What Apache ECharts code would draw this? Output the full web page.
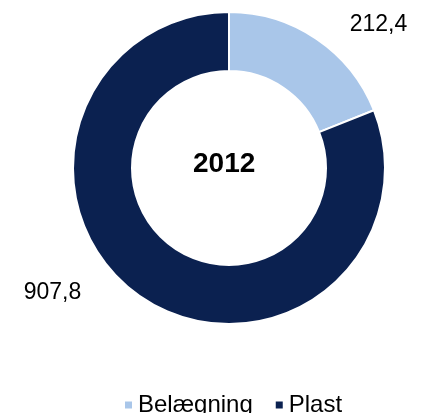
<!DOCTYPE html>
<html>
<head>
<meta charset="utf-8">
<script src="https://cdn.jsdelivr.net/npm/echarts@6/dist/echarts.min.js"></script>
<style>
  html, body { margin: 0; padding: 0; background: #ffffff; }
  #chart { width: 421px; height: 413px; }
</style>
</head>
<body>
<div id="chart"></div>
<script>
// Consumption split for the year shown in the donut hole
const yearLabel = '2012';
const categories = ['Belægning', 'Plast'];
const values = [212.4, 907.8];
const colors = ['#A9C6E9', '#0B2150'];

// Fine offsets for the outside value labels (per slice)
const labelOffsets = [[2, 2], [-29, -21]];

const fmt = v => v.toFixed(1).replace('.', ',');

const chart = echarts.init(document.getElementById('chart'), null, { renderer: 'canvas' });

chart.setOption({
  animation: false,
  backgroundColor: '#ffffff',
  color: colors,
  title: {
    text: yearLabel,
    left: 193,
    top: 150,
    padding: 0,
    textStyle: {
      fontFamily: 'Liberation Sans, Arial, sans-serif',
      fontSize: 28,
      fontWeight: 'bold',
      color: '#000000'
    }
  },
  legend: {
    data: categories,
    left: 123,
    top: 393,
    padding: 0,
    icon: 'rect',
    itemWidth: 9,
    itemHeight: 9,
    itemGap: 21,
    textStyle: {
      fontFamily: 'Liberation Sans, Arial, sans-serif',
      fontSize: 24,
      color: '#000000'
    }
  },
  series: [{
    type: 'pie',
    center: [229, 168],
    radius: [97, 156],
    startAngle: 90,
    clockwise: true,
    avoidLabelOverlap: false,
    itemStyle: { borderColor: '#ffffff', borderWidth: 2 },
    label: {
      show: true,
      position: 'outside',
      formatter: p => fmt(p.value),
      fontFamily: 'Liberation Sans, Arial, sans-serif',
      fontSize: 23,
      color: '#000000'
    },
    labelLine: { show: false, length: 20, length2: 15 },
    labelLayout: p => ({ dx: labelOffsets[p.dataIndex][0], dy: labelOffsets[p.dataIndex][1] }),
    emphasis: { disabled: true },
    data: categories.map((name, i) => ({ name, value: values[i] }))
  }]
});
</script>
</body>
</html>
